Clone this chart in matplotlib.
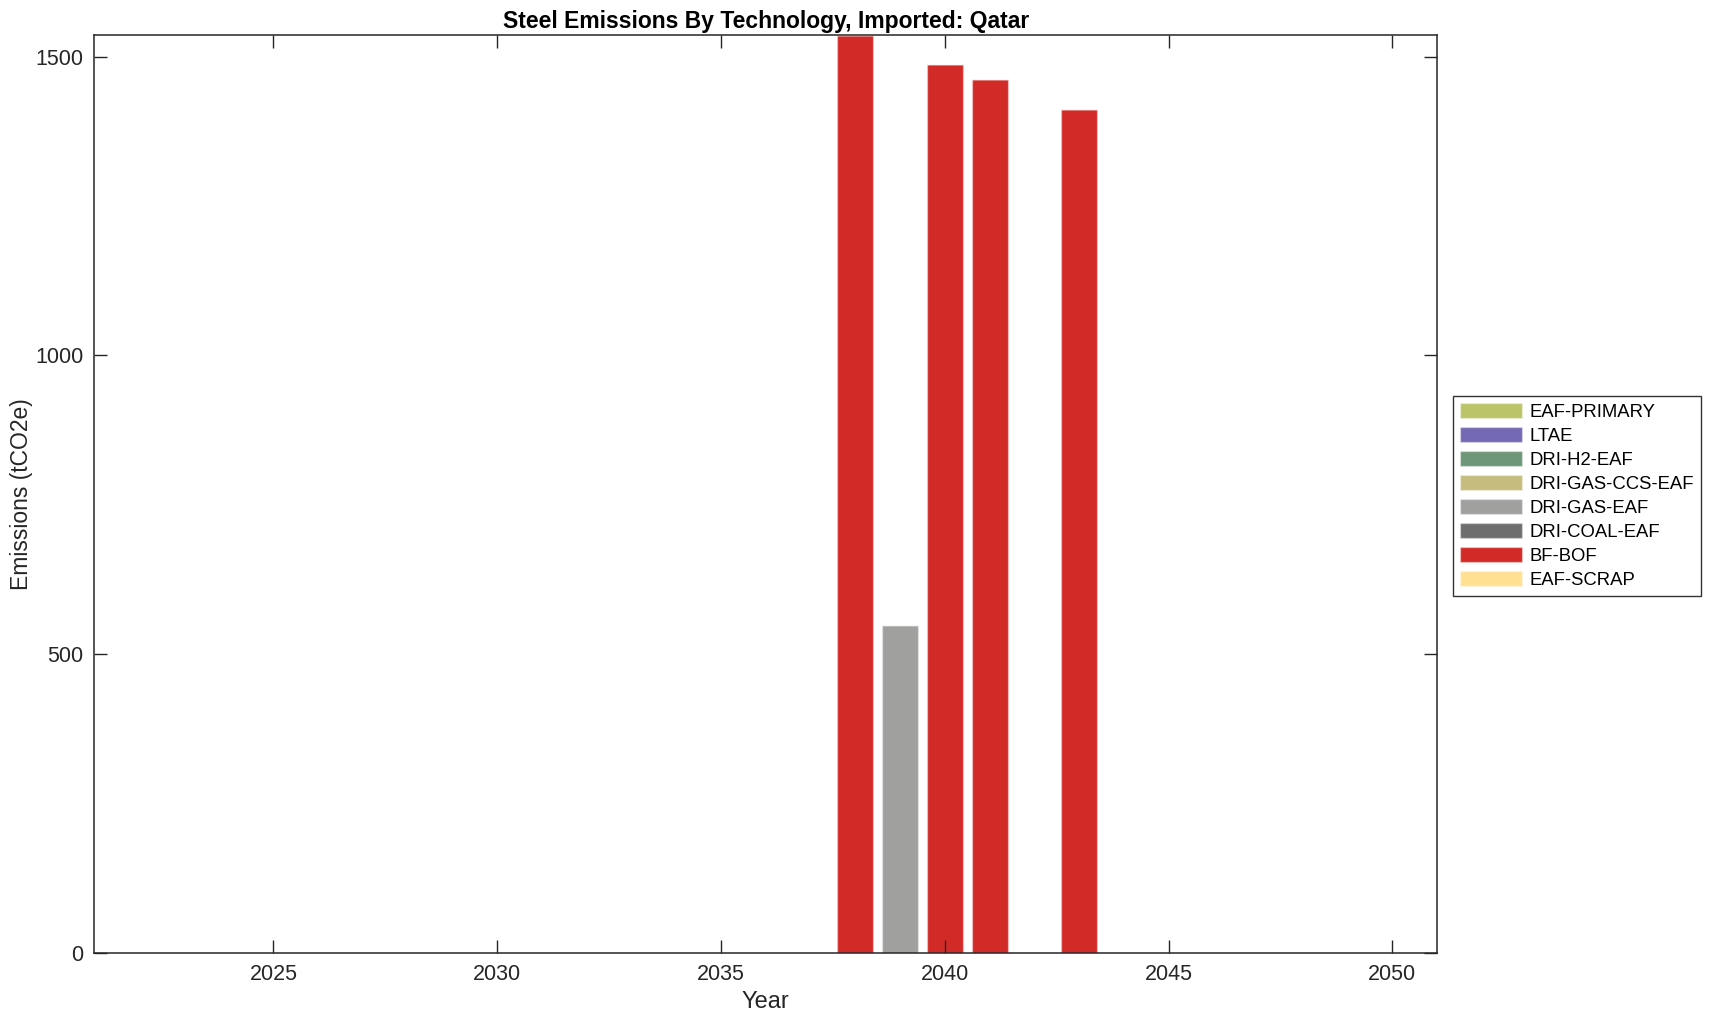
import matplotlib
matplotlib.use("Agg")
import matplotlib.pyplot as plt
import numpy as np

plt.rcParams['font.family'] = ['Liberation Sans', 'DejaVu Sans']

# data (tCO2e); only these years carry emissions
years = [2038, 2039, 2040, 2041, 2042, 2043]
eaf_scrap = [0, 0, 0, 0, 0, 0]
bf_bof = [1536, 0, 1487, 1462, 0, 1412]
dri_coal_eaf = [0, 0, 0, 0, 0, 0]
dri_gas_eaf = [0, 548, 0, 0, 0, 0]
dri_gas_ccs_eaf = [0, 0, 0, 0, 0, 0]
dri_h2_eaf = [0, 0, 0, 0, 0, 0]
ltae = [0, 0, 0, 0, 0, 0]
eaf_primary = [0, 0, 0, 0, 0, 0]

# stacking order bottom -> top
techs = ['EAF-SCRAP', 'BF-BOF', 'DRI-COAL-EAF', 'DRI-GAS-EAF',
         'DRI-GAS-CCS-EAF', 'DRI-H2-EAF', 'LTAE', 'EAF-PRIMARY']
series = [eaf_scrap, bf_bof, dri_coal_eaf, dri_gas_eaf,
          dri_gas_ccs_eaf, dri_h2_eaf, ltae, eaf_primary]
colors = ['#FFE191', '#D22A26', '#6E6E6E', '#A0A09E',
          '#C6BC7D', '#6E9678', '#7369B4', '#BCC46A']

fig = plt.figure(figsize=(17.14, 10.21), dpi=100)
ax = fig.add_axes([0.0551, 0.0666, 0.7834, 0.8991])

bottom = np.zeros(len(years))
handles = []
for name, vals, c in zip(techs, series, colors):
    vals = np.array(vals, dtype=float)
    b = ax.bar(years, vals, width=0.8, bottom=bottom, color=c,
               edgecolor=(1, 1, 1, 0.35), linewidth=1.0, label=name)
    handles.append(b)
    bottom += vals

ax.set_xlim(2021, 2051)
ax.set_ylim(0, 1536)
ax.set_xticks([2025, 2030, 2035, 2040, 2045, 2050])
ax.set_yticks([0, 500, 1000, 1500])

dark = '#262626'
for s in ax.spines.values():
    s.set_color(dark)
    s.set_linewidth(1.1)
ax.tick_params(direction='in', length=9.5, width=1.0, colors=dark,
               labelsize=15.5, top=True, right=True, pad=8)

ax.set_title('Steel Emissions By Technology, Imported: Qatar',
             fontsize=16.5, fontweight='bold', pad=5)
ax.set_xlabel('Year', fontsize=17, color=dark, labelpad=4)
ax.set_ylabel('Emissions (tCO2e)', fontsize=16.5, color=dark, labelpad=1.5)

leg = fig.legend(handles[::-1], techs[::-1], loc='upper left',
                 bbox_to_anchor=(1453 / 1714, 1 - 396 / 1021),
                 borderaxespad=0, fontsize=13.3, frameon=True,
                 fancybox=False, edgecolor='black', handlelength=3.35,
                 handleheight=0.87, handletextpad=0.42, labelspacing=0.33,
                 borderpad=0.38)
leg.get_frame().set_linewidth(1.0)

fig.savefig('out.png', dpi=100)
